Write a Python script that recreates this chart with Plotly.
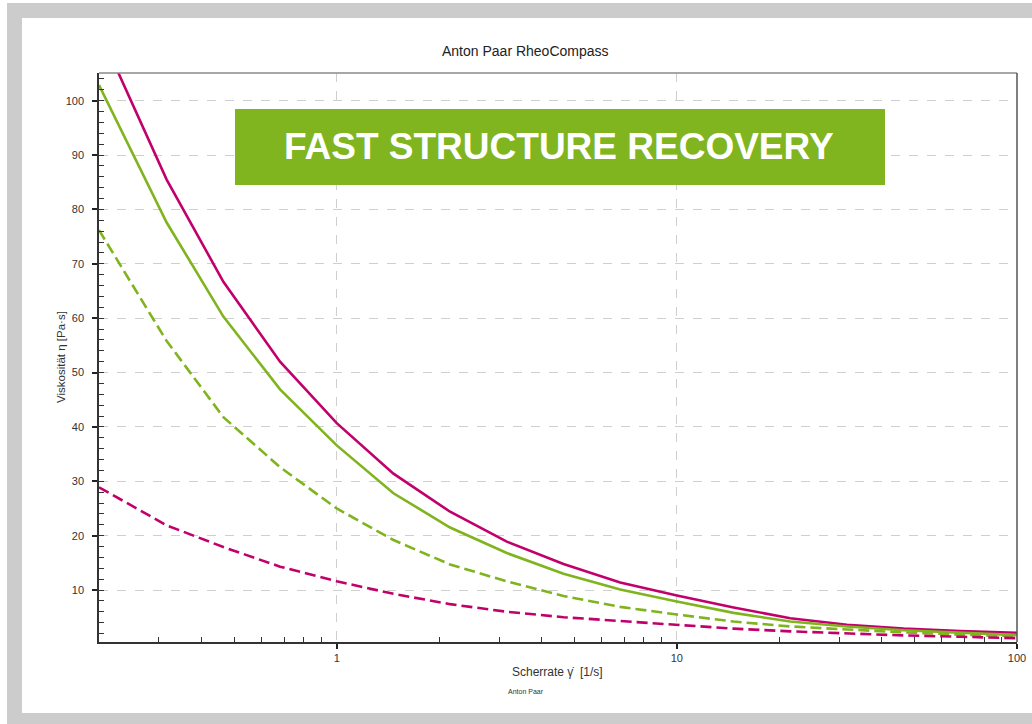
import plotly.graph_objects as go

# Shear rate points (1/s), six per decade
shear_rate = [0.2, 0.3162, 0.4642, 0.6813, 1.0, 1.468, 2.154, 3.162, 4.642,
              6.813, 10.0, 14.68, 21.54, 31.62, 46.42, 68.13, 100.0]

# Viscosity curves (Pa·s)
visc_magenta_solid = [113.0, 85.5, 66.7, 52.0, 40.7, 31.4, 24.4, 18.9, 14.8,
                      11.4, 9.0, 6.8, 4.8, 3.6, 2.9, 2.45, 2.15]
visc_green_solid = [102.9, 77.6, 60.3, 46.9, 36.6, 27.8, 21.5, 16.8, 13.0,
                    10.1, 7.9, 5.8, 4.2, 3.3, 2.6, 2.1, 1.7]
visc_green_dashed = [76.2, 55.8, 41.8, 32.6, 25.0, 19.2, 14.7, 11.6, 8.9,
                     6.9, 5.5, 4.2, 3.3, 2.7, 2.2, 1.8, 1.5]
visc_magenta_dashed = [28.9, 21.9, 17.9, 14.3, 11.6, 9.3, 7.4, 6.0, 5.0,
                       4.3, 3.6, 2.9, 2.4, 2.0, 1.65, 1.4, 1.15]

y_ticks = [10, 20, 30, 40, 50, 60, 70, 80, 90, 100]
x_ticks = [1, 10, 100]
x_tick_text = ["1", "10", "100"]
x_minor = [0.3, 0.4, 0.5, 0.6, 0.7, 0.8, 0.9, 2, 3, 4, 5, 6, 7, 8, 9,
           20, 30, 40, 50, 60, 70, 80, 90]

MAGENTA = "#c1006b"
GREEN = "#80b41e"
FONT = "Liberation Sans, Arial, sans-serif"
TEXT = "#333333"

W, H = 1032, 724
L, R, T, B = 99, 15, 73, 82
PW, PH = W - L - R, H - T - B


def px(x):
    return (x - L) / PW


def py(y):
    return (H - B - y) / PH


fig = go.Figure()
series = [
    (visc_magenta_solid, MAGENTA, "solid"),
    (visc_green_solid, GREEN, "solid"),
    (visc_green_dashed, GREEN, "11px,5px"),
    (visc_magenta_dashed, MAGENTA, "11px,5px"),
]
for vals, col, dash in series:
    fig.add_trace(go.Scatter(x=shear_rate, y=vals, mode="lines",
                             line=dict(color=col, width=2.6, dash=dash),
                             showlegend=False, hoverinfo="skip"))

shapes = [
    # outer grey frame
    dict(type="rect", xref="paper", yref="paper", x0=px(7), x1=px(1032),
         y0=py(18), y1=py(3), fillcolor="#cccccc", line_width=0, layer="below"),
    dict(type="rect", xref="paper", yref="paper", x0=px(7), x1=px(22),
         y0=py(724), y1=py(3), fillcolor="#cccccc", line_width=0, layer="below"),
    dict(type="rect", xref="paper", yref="paper", x0=px(7), x1=px(1032),
         y0=py(724), y1=py(713), fillcolor="#cccccc", line_width=0, layer="below"),
    # plot frame: top and right
    dict(type="line", xref="paper", yref="paper", x0=0, x1=1, y0=1, y1=1,
         line=dict(color="#8a8a8a", width=1.5)),
    dict(type="line", xref="paper", yref="paper", x0=1, x1=1, y0=0, y1=1,
         line=dict(color="#555555", width=1.5)),
    # headline banner
    dict(type="rect", xref="paper", yref="paper", x0=px(235), x1=px(885),
         y0=py(185), y1=py(109), fillcolor="#80b51f", line_width=0, layer="above"),
]

annotations = [
    dict(text="<b>FAST STRUCTURE RECOVERY</b>", xref="paper", yref="paper",
         x=px(559), y=py(147), showarrow=False,
         font=dict(family=FONT, size=37, color="white"),
         xanchor="center", yanchor="middle"),
    dict(text="Anton Paar RheoCompass", xref="paper", yref="paper",
         x=px(525), y=py(51), showarrow=False,
         font=dict(family=FONT, size=14, color="#222222"),
         xanchor="center", yanchor="middle"),
    dict(text="Scherrate γ̇  [1/s]", xref="paper", yref="paper",
         x=px(557), y=py(672), showarrow=False,
         font=dict(family=FONT, size=12, color=TEXT),
         xanchor="center", yanchor="middle"),
    dict(text="Anton Paar", xref="paper", yref="paper",
         x=px(526), y=py(691), showarrow=False,
         font=dict(family=FONT, size=7, color=TEXT),
         xanchor="center", yanchor="middle"),
    dict(text="Viskosität η [Pa·s]", xref="paper", yref="paper",
         x=px(61), y=py(357), showarrow=False, textangle=-90,
         font=dict(family=FONT, size=11.5, color=TEXT),
         xanchor="center", yanchor="middle"),
]

fig.update_layout(
    width=W, height=H,
    margin=dict(l=L, r=R, t=T, b=B, pad=0, autoexpand=False),
    paper_bgcolor="white", plot_bgcolor="white",
    shapes=shapes, annotations=annotations,
    font=dict(family=FONT, color=TEXT),
)

fig.update_xaxes(
    type="log", range=[-0.69897, 2], automargin=False,
    tickmode="array", tickvals=x_ticks, ticktext=x_tick_text,
    ticks="outside", ticklen=5, tickwidth=1.5, tickcolor="#222222",
    tickfont=dict(family=FONT, size=11, color=TEXT),
    showline=True, linecolor="#333333", linewidth=1.5,
    showgrid=True, gridcolor="#cfcfcf", griddash="dash", gridwidth=1,
    minor=dict(tickvals=x_minor, ticks="inside", ticklen=5,
               tickcolor="#333333", tickwidth=1, showgrid=False),
    zeroline=False,
)
fig.update_yaxes(
    range=[0.44, 105.1], automargin=False,
    tickmode="array", tickvals=y_ticks,
    ticks="outside", ticklen=5, tickwidth=1.5, tickcolor="#222222",
    tickfont=dict(family=FONT, size=11, color=TEXT),
    ticklabelstandoff=6,
    showline=True, linecolor="#333333", linewidth=1.5,
    showgrid=True, gridcolor="#cfcfcf", griddash="dash", gridwidth=1,
    minor=dict(dtick=2, tick0=0, ticks="inside", ticklen=5,
               tickcolor="#333333", tickwidth=1, showgrid=False),
    zeroline=False,
)

fig.write_html("out.html")
